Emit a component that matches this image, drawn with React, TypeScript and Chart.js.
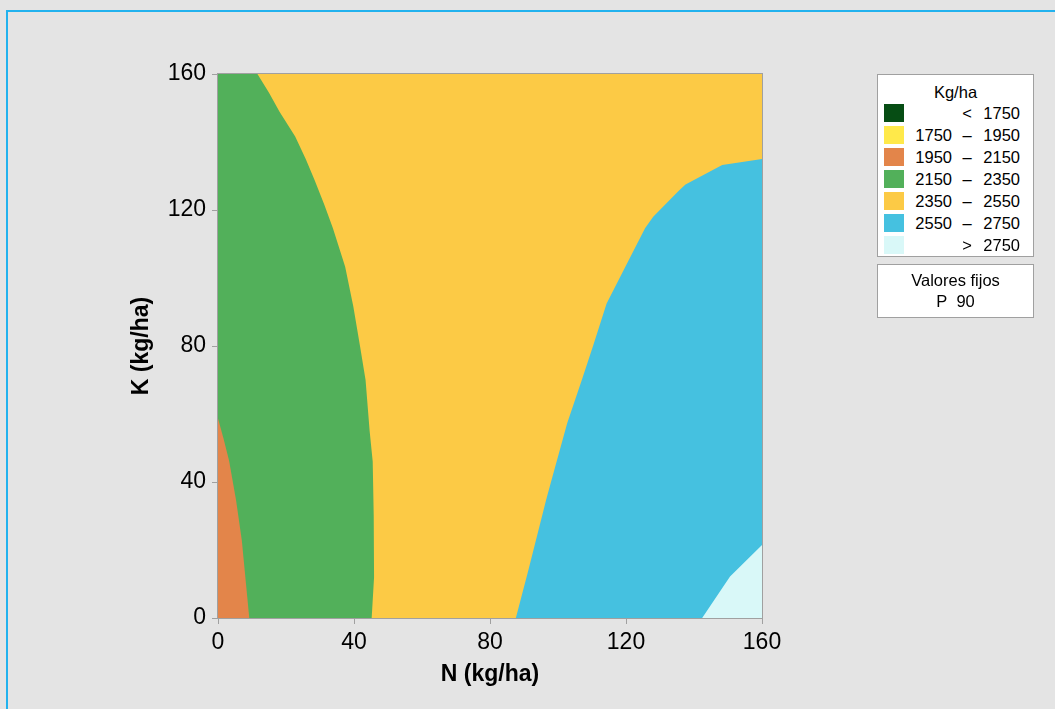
import React, { useEffect, useRef } from "react";
import { Chart, registerables } from "chart.js";

Chart.register(...registerables);

// Axis ticks
const nTicks = [0, 40, 80, 120, 160];
const kTicks = [0, 40, 80, 120, 160];

// Green (2150-2350) / gold (2350-2550) boundary, top to bottom
const gyN = [11.6, 15.0, 18.1, 22.7, 25.8, 28.4, 31.3, 33.8, 34.9, 37.4, 39.8, 41.8, 43.4, 44.6, 45.5, 45.8, 45.9, 45.2];
const gyK = [160, 154.5, 148.9, 141.6, 135.0, 128.8, 121.5, 114.6, 111.2, 103.3, 91.6, 79.8, 70, 55, 46, 30, 12, 0];

// Orange (1950-2150) boundary
const orN = [0, 1.7, 3.3, 5.3, 7.0, 9.2];
const orK = [58.7, 52.5, 46, 34.7, 22.9, 0];

// Blue (2550-2750) boundary, bottom to top
const blN = [87.6, 91.3, 96.5, 98.1, 102.7, 107.0, 110.4, 114.3, 119.7, 125.6, 128.0, 135.6, 137.5, 148.3, 160];
const blK = [0, 14.1, 34.7, 40.6, 57.3, 70.0, 80.3, 92.5, 103.1, 114.6, 118.0, 125.7, 127.5, 133.2, 135.0];

// Light cyan (> 2750) boundary
const cyN = [142.4, 150.6, 160];
const cyK = [0, 12.2, 21.5];

// Legend
const legendLow = ["", "1750", "1950", "2150", "2350", "2550", ""];
const legendSep = ["<", "–", "–", "–", "–", "–", ">"];
const legendHigh = ["1750", "1950", "2150", "2350", "2550", "2750", "2750"];
const legendColors = ["#064D14", "#FFE94A", "#E3854A", "#52B05A", "#FCCA45", "#45C1E0", "#D9F8F8"];

const FONT = "'Liberation Sans', Arial, sans-serif";

function pts(ns: number[], ks: number[]) {
  return ns.map((n, i) => ({ x: n, y: ks[i] }));
}

export default function App() {
  const ref = useRef<HTMLCanvasElement | null>(null);

  useEffect(() => {
    if (!ref.current) return;
    const mk = (data: { x: number; y: number }[], color: string) => ({
      data,
      showLine: true,
      fill: "shape" as const,
      backgroundColor: color,
      borderColor: color,
      borderWidth: 0,
      pointRadius: 0,
      pointHoverRadius: 0,
      tension: 0,
    });
    const green = [{ x: 0, y: 160 }, ...pts(gyN, gyK), { x: 0, y: 0 }];
    const orange = [...pts(orN, orK), { x: 0, y: 0 }];
    const blue = [...pts(blN, blK), { x: 160, y: 0 }];
    const cyan = [...pts(cyN, cyK), { x: 160, y: 0 }];
    const gold = [
      { x: 0, y: 0 },
      { x: 0, y: 160 },
      { x: 160, y: 160 },
      { x: 160, y: 0 },
    ];

    const frame = {
      id: "frame",
      afterDatasetsDraw(chart: any) {
        const { ctx, chartArea } = chart;
        ctx.save();
        ctx.strokeStyle = "#A0A0A0";
        ctx.lineWidth = 1;
        ctx.strokeRect(
          Math.round(chartArea.left) - 0.5,
          Math.round(chartArea.top) - 0.5,
          Math.round(chartArea.right - chartArea.left) + 1,
          Math.round(chartArea.bottom - chartArea.top) + 1
        );
        ctx.restore();
      },
    };

    const chart = new Chart(ref.current, {
      type: "scatter",
      data: {
        datasets: [
          mk(cyan, "#D9F8F8"),
          mk(blue, "#45C1E0"),
          mk(orange, "#E3854A"),
          mk(green, "#52B05A"),
          mk(gold, "#FCCA45"),
        ],
      },
      options: {
        animation: false,
        responsive: false,
        events: [],
        layout: { padding: { left: 0, top: 74, right: 293, bottom: 0 } },
        plugins: { legend: { display: false }, tooltip: { enabled: false } },
        scales: {
          x: {
            type: "linear",
            min: 0,
            max: 160,
            afterBuildTicks: (s: any) => {
              s.ticks = nTicks.map((v) => ({ value: v }));
            },
            afterFit: (s: any) => {
              s.height = 91;
            },
            ticks: { color: "#000", font: { family: FONT, size: 23 }, padding: 5, maxRotation: 0 },
            grid: { drawOnChartArea: false, drawTicks: true, tickLength: 6, color: "#A0A0A0" },
            border: { display: true, color: "#A0A0A0" },
            title: {
              display: true,
              text: "N (kg/ha)",
              color: "#000",
              font: { family: FONT, size: 23, weight: "bold" },
              padding: { top: 0, bottom: 21 },
            },
          },
          y: {
            type: "linear",
            min: 0,
            max: 160,
            afterBuildTicks: (s: any) => {
              s.ticks = kTicks.map((v) => ({ value: v }));
            },
            afterFit: (s: any) => {
              s.width = 218;
            },
            ticks: { color: "#000", font: { family: FONT, size: 23 }, padding: 6 },
            grid: { drawOnChartArea: false, drawTicks: true, tickLength: 6, color: "#A0A0A0" },
            border: { display: true, color: "#A0A0A0" },
            title: {
              display: true,
              text: "K (kg/ha)",
              color: "#000",
              font: { family: FONT, size: 23, weight: "bold" },
              padding: { top: 128, bottom: 0 },
            },
          },
        },
      },
      plugins: [frame],
    });
    return () => chart.destroy();
  }, []);

  return (
    <div
      style={{
        position: "fixed",
        left: 0,
        top: 0,
        width: 1055,
        height: 709,
        background: "#E4E4E4",
        overflow: "hidden",
        fontFamily: FONT,
      }}
    >
      <div
        style={{
          position: "absolute",
          left: 6,
          top: 10,
          width: 1200,
          height: 900,
          border: "2px solid #22B2EE",
          boxSizing: "border-box",
        }}
      />
      <canvas ref={ref} width={1055} height={709} style={{ position: "absolute", left: 0, top: 0 }} />
      <div
        style={{
          position: "absolute",
          left: 877,
          top: 74,
          width: 157,
          height: 183,
          background: "#FFF",
          border: "1px solid #A0A0A0",
          boxSizing: "border-box",
          fontSize: 16.5,
          color: "#000",
        }}
      >
        <div style={{ position: "absolute", left: 0, width: "100%", top: 7, textAlign: "center", lineHeight: "20px" }}>
          Kg/ha
        </div>
        {legendColors.map((c, i) => (
          <div key={i} style={{ position: "absolute", left: 0, top: 29 + i * 22, width: "100%", height: 18 }}>
            <div style={{ position: "absolute", left: 6, top: 0, width: 20, height: 18, background: c }} />
            <div style={{ position: "absolute", left: 20, width: 54, top: 0, lineHeight: "18px", textAlign: "right" }}>
              {legendLow[i]}
            </div>
            <div style={{ position: "absolute", left: 79, width: 20, top: 0, lineHeight: "18px", textAlign: "center" }}>
              {legendSep[i]}
            </div>
            <div style={{ position: "absolute", left: 92, width: 50, top: 0, lineHeight: "18px", textAlign: "right" }}>
              {legendHigh[i]}
            </div>
          </div>
        ))}
      </div>
      <div
        style={{
          position: "absolute",
          left: 877,
          top: 264,
          width: 157,
          height: 54,
          background: "#FFF",
          border: "1px solid #A0A0A0",
          boxSizing: "border-box",
          fontSize: 16.5,
          color: "#000",
          textAlign: "center",
          lineHeight: "21px",
          paddingTop: 5,
        }}
      >
        <div>Valores fijos</div>
        <div>P&nbsp;&nbsp;90</div>
      </div>
    </div>
  );
}
